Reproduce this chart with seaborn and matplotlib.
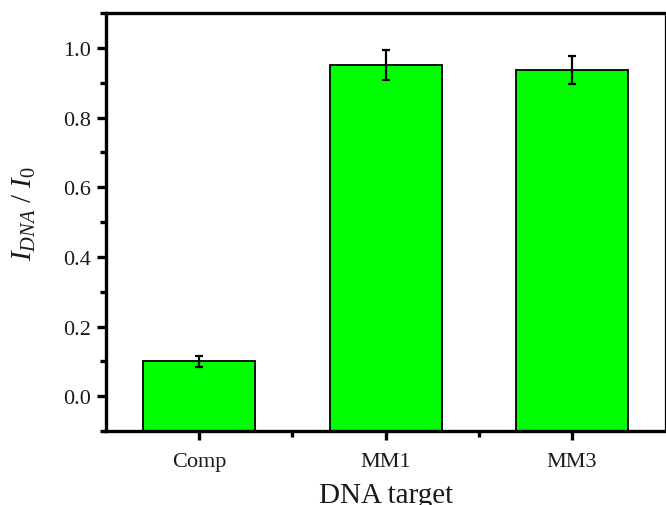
import matplotlib
matplotlib.use("Agg")
import matplotlib.pyplot as plt
import seaborn as sns
import pandas as pd
from matplotlib.ticker import MultipleLocator

categories = ["Comp", "MM1", "MM3"]
values = [0.10, 0.95, 0.937]
errors = [0.016, 0.043, 0.039]

sns.set_theme(style="ticks")
plt.rcParams["font.family"] = ["Liberation Serif", "DejaVu Serif"]
plt.rcParams["mathtext.fontset"] = "custom"
plt.rcParams["mathtext.it"] = "Liberation Serif:italic"
plt.rcParams["mathtext.rm"] = "Liberation Serif"

df = pd.DataFrame({"target": categories, "ratio": values})

fig = plt.figure(figsize=(6.66, 5.06), dpi=100)
ax = fig.add_axes([0.159, 0.146, 0.84, 0.826])

sns.barplot(data=df, x="target", y="ratio", color="#00FF00", saturation=1,
            width=0.6, edgecolor="black", linewidth=1.3, errorbar=None, ax=ax)

ymin, ymax = -0.1, 1.1
for p in ax.patches:
    h = p.get_height()
    p.set_y(ymin)
    p.set_height(h - ymin)

ax.errorbar(range(len(categories)), values, yerr=errors, fmt="none",
            ecolor="black", elinewidth=1.6, capsize=3.2, capthick=1.6, zorder=5)

ax.set_ylim(ymin, ymax)
ax.set_xlim(-0.5, 2.5)
ax.set_yticks([0.0, 0.2, 0.4, 0.6, 0.8, 1.0])
ax.yaxis.set_minor_locator(MultipleLocator(0.1))
ax.set_xticks([0, 1, 2])
ax.set_xticks([0.5, 1.5], minor=True)
ax.set_xticklabels(categories)

for side in ["left", "bottom", "top"]:
    ax.spines[side].set_linewidth(2.4)
    ax.spines[side].set_color("black")
ax.spines["right"].set_linewidth(0.9)
ax.spines["right"].set_color("black")

ax.tick_params(axis="both", which="major", direction="out", length=6.5, width=2.4,
               color="black", labelsize=16, labelcolor="#1a1a1a", pad=4,
               top=False, right=False)
ax.tick_params(axis="both", which="minor", direction="out", length=4.3, width=2.4,
               color="black", top=False, right=False)
ax.tick_params(axis="x", which="major", pad=8.6)

ax.set_xlabel("DNA target", fontsize=21, color="#1a1a1a", labelpad=7.5)
ax.set_ylabel(r"$I_{DNA}$ / $I_0$", fontsize=21, color="#1a1a1a")
ax.yaxis.set_label_coords(-0.121, 0.524)

fig.savefig("out.png", dpi=100)
